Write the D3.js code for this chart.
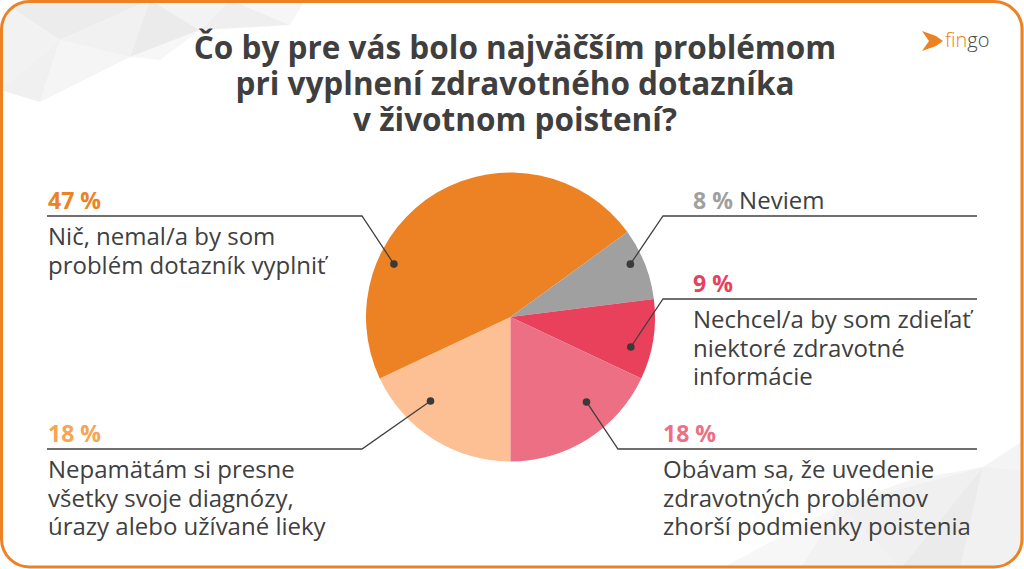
<!DOCTYPE html>
<html><head><meta charset="utf-8">
<script src="https://cdn.jsdelivr.net/npm/d3@7"></script>
<style>body{margin:0;background:#fff;overflow:hidden} svg{display:block}</style>
</head><body><svg id="c" width="1024" height="569"></svg>
<script>
// ---- data ----
const titleLines = ["Čo by pre vás bolo najväčším problémom", "pri vyplnení zdravotného dotazníka", "v životnom poistení?"];
const categories = ["Nepamätám si presne", "Nič, nemal/a by som", "Neviem", "Nechcel/a by som zdieľať", "Obávam sa, že uvedenie"];
const labelLines = [
  ["Nepamätám si presne", "všetky svoje diagnózy,", "úrazy alebo užívané lieky"],
  ["Nič, nemal/a by som", "problém dotazník vyplniť"],
  ["Neviem"],
  ["Nechcel/a by som zdieľať", "niektoré zdravotné", "informácie"],
  ["Obávam sa, že uvedenie", "zdravotných problémov", "zhorší podmienky poistenia"]
];
const values = [18, 47, 8, 9, 18];
const pctLabels = ["18 %", "47 %", "8 %", "9 %", "18 %"];

// ---- styles / layout ----
const sliceColors = ["#FDBF94", "#EC8224", "#A0A0A0", "#E9405C", "#EC6F83"];
const pctColors   = ["#F7A453", "#EC8224", "#A0A0A0", "#E9405C", "#EC6F83"];
const layout = [
  {textX: 48,  ruleY: 449, elbowX: 362, endX: 47,  dotAng: 223.6, dotR: 116},
  {textX: 48,  ruleY: 216, elbowX: 362, endX: 47,  dotAng: 294.4, dotR: 128},
  {textX: 693, ruleY: 216, elbowX: 663, endX: 977, dotAng: 66.2,  dotR: 131, inline: true},
  {textX: 693, ruleY: 299, elbowX: 663, endX: 977, dotAng: 104,   dotR: 124},
  {textX: 663, ruleY: 449, elbowX: 618, endX: 977, dotAng: 138.2, dotR: 114}
];
const W = 1024, H = 569;
const cx = 510.5, cy = 317, R = 144.5;
const textColor = "#404040";
const font = "'Open Sans', 'Noto Sans', sans-serif";
const labelSize = 24, pctSize = 23, lineH = 28.5;

const svg = d3.select("#c");
const defs = svg.append("defs");
defs.append("clipPath").attr("id", "frame")
  .append("rect").attr("x", 1.5).attr("y", 1.5).attr("width", W - 3.5).attr("height", H - 3.5).attr("rx", 28);

// ---- background decoration (low-poly) ----
const deco = svg.append("g").attr("clip-path", "url(#frame)");
const polys = [
  {p: [[0,0],[150,0],[60,40]], f: "#e4e4e4"},
  {p: [[0,0],[60,40],[0,90]], f: "#ececec"},
  {p: [[60,40],[0,90],[40,102]], f: "#e9e9e9"},
  {p: [[60,40],[40,102],[130,57]], f: "#f1f1f1"},
  {p: [[150,0],[60,40],[130,57]], f: "#ebebeb"},
  {p: [[150,0],[130,57],[200,30]], f: "#e2e2e2"},
  {p: [[150,0],[200,30],[230,0]], f: "#eeeeee"},
  {p: [[230,0],[200,30],[290,25]], f: "#e8e8e8"},
  {p: [[230,0],[290,25],[305,0]], f: "#f2f2f2"},
  {p: [[130,57],[200,30],[160,60]], f: "#f4f4f4"},
  {p: [[720,569],[840,505],[800,569]], f: "#f3f3f3"},
  {p: [[800,569],[840,505],[900,569]], f: "#ececec"},
  {p: [[840,505],[983,467],[900,569]], f: "#e9e9e9"},
  {p: [[900,569],[983,467],[960,569]], f: "#e2e2e2"},
  {p: [[983,467],[1024,470],[1024,569],[960,569]], f: "#ebebeb"},
  {p: [[840,505],[910,480],[983,467]], f: "#f1f1f1"},
  {p: [[1024,470],[983,467],[1024,440]], f: "#f0f0f0"}
];
deco.selectAll("polygon").data(polys).join("polygon")
  .attr("points", d => d.p.map(q => q.join(",")).join(" "))
  .attr("fill", d => d.f).attr("opacity", 0.7);

// frame
svg.append("rect").attr("x", 1.5).attr("y", 1.5).attr("width", W - 3.5).attr("height", H - 3.5)
  .attr("rx", 28).attr("fill", "none").attr("stroke", "#EC8224").attr("stroke-width", 3);

// ---- title ----
svg.append("text").attr("text-anchor", "middle").attr("font-family", font).attr("font-weight", 700)
  .attr("font-size", 31.5).attr("fill", "#3F3F3F")
  .selectAll("tspan").data(titleLines).join("tspan")
  .attr("x", 515).attr("y", (d, i) => 59 + i * 36).text(d => d);

// ---- logo ----
const logo = svg.append("g");
logo.append("polygon").attr("points", "922,31 936,36 943,41 936,46 922,51 929,41").attr("fill", "#EC8224");
const lt = logo.append("text").attr("x", 945).attr("y", 47).attr("font-family", font).attr("font-size", 20).attr("font-weight", 300);
lt.append("tspan").attr("fill", "#EC8224").text("fin");
lt.append("tspan").attr("fill", "#444").text("go");

// ---- pie ----
const pie = d3.pie().sort(null).value(d => d).startAngle(Math.PI).endAngle(3 * Math.PI);
const arcs = pie(values);
const arc = d3.arc().innerRadius(0).outerRadius(R);
const g = svg.append("g").attr("transform", `translate(${cx},${cy})`);
g.selectAll("path").data(arcs).join("path")
  .attr("d", arc).attr("fill", (d, i) => sliceColors[i]);

// ---- leaders & labels ----
const lab = svg.append("g");
arcs.forEach((a, i) => {
  const L = layout[i];
  const ang = L.dotAng * Math.PI / 180;
  const dx = cx + L.dotR * Math.sin(ang), dy = cy - L.dotR * Math.cos(ang);
  lab.append("polyline")
    .attr("points", `${dx},${dy} ${L.elbowX},${L.ruleY} ${L.endX},${L.ruleY}`)
    .attr("fill", "none").attr("stroke", "#404040").attr("stroke-width", 1.3);
  lab.append("circle").attr("cx", dx).attr("cy", dy).attr("r", 3.8).attr("fill", "#3a3a3a");
  if (L.inline) {
    const t = lab.append("text").attr("x", L.textX).attr("y", L.ruleY - 7)
      .attr("font-family", font).attr("font-size", labelSize);
    t.append("tspan").attr("font-weight", 700).attr("font-size", pctSize).attr("fill", pctColors[i]).text(pctLabels[i]);
    t.append("tspan").attr("fill", textColor).text(" " + labelLines[i][0]);
  } else {
    lab.append("text").attr("x", L.textX).attr("y", L.ruleY - 7)
      .attr("font-family", font).attr("font-size", pctSize).attr("font-weight", 700)
      .attr("fill", pctColors[i]).text(pctLabels[i]);
    lab.append("text").attr("font-family", font).attr("font-size", labelSize).attr("fill", textColor)
      .selectAll("tspan").data(labelLines[i]).join("tspan")
      .attr("x", L.textX).attr("y", (d, k) => L.ruleY + 29 + k * lineH).text(d => d);
  }
});
</script>
</body></html>
